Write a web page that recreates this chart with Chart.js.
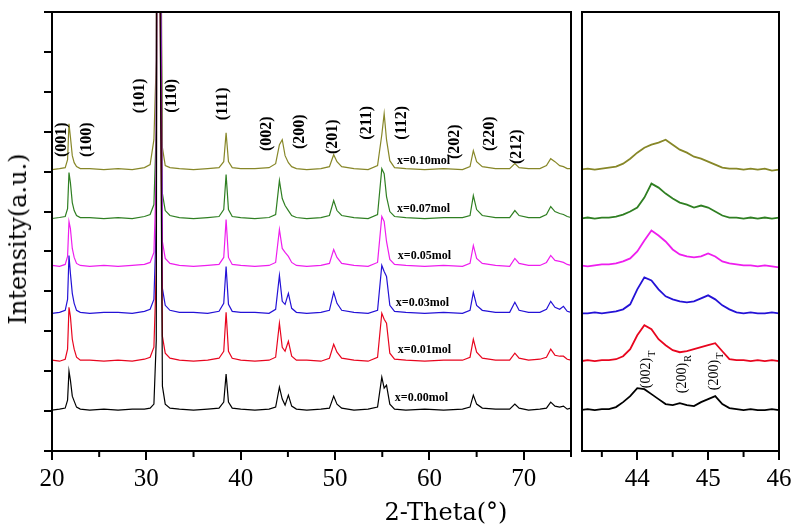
<!DOCTYPE html>
<html>
<head>
<meta charset="utf-8">
<script src="https://cdn.jsdelivr.net/npm/chart.js@4.4.0/dist/chart.umd.min.js"></script>
<style>
  html, body { margin: 0; padding: 0; background: #fff; }
  #wrap { position: relative; width: 812px; height: 527px; overflow: hidden; }
  #left { position: absolute; left: 0; top: 0; }
  #right { position: absolute; left: 576px; top: 0; }
  .ytitle {
    position: absolute; left: 18px; top: 239px;
    transform: translate(-50%, -50%) rotate(-90deg);
    font: 24px "DejaVu Serif"; white-space: nowrap; color: #000;
  }
  .xtitle {
    position: absolute; left: 446px; top: 512px;
    transform: translate(-50%, -50%);
    font: 24px "DejaVu Serif"; white-space: nowrap; color: #000;
  }
</style>
</head>
<body>
<div id="wrap">
  <canvas id="left" width="576" height="527"></canvas>
  <canvas id="right" width="236" height="527"></canvas>
  <div class="ytitle">Intensity(a.u.)</div>
  <div class="xtitle">2-Theta(°)</div>
</div>
<script>
// ---- data ----
const sampleNames = ['x=0.00mol', 'x=0.01mol', 'x=0.03mol', 'x=0.05mol', 'x=0.07mol', 'x=0.10mol'];
const sampleColors = ['#000000', '#e8051e', '#2412d6', '#ee1eee', '#2f7f22', '#878728'];
const offsets = [41, 90, 138, 185, 233, 282];

// full scan, 2θ (deg)
const twoTheta = [
  20.0, 20.8, 21.4, 21.65, 21.8, 21.95, 22.15, 22.35, 22.6, 23.0,
  24.0, 25.5, 27.0, 28.5, 29.8, 30.4, 30.8, 31.05, 31.25, 31.45,
  31.7, 32.0, 32.5, 33.5, 35.0, 36.5, 37.7, 38.2, 38.45, 38.7,
  39.1, 40.0, 41.5, 43.0, 43.7, 44.1, 44.4, 44.7, 45.05, 45.4,
  45.9, 47.0, 48.5, 49.4, 49.85, 50.2, 50.7, 52.0, 53.5, 54.5,
  54.95, 55.2, 55.45, 55.8, 56.3, 57.5, 59.5, 61.5, 63.5, 64.3,
  64.65, 65.0, 65.6, 67.0, 68.5, 69.05, 69.5, 70.5, 71.7, 72.4,
  72.85, 73.3, 73.8, 74.2, 74.6, 75.0
];
const int000 = [
  0, 1, 2, 10, 39, 30, 14, 9, 3, 1,
  0, 1, 0, 1, 1, 2, 6, 70, 1400, 420,
  24, 6, 2, 1, 0, 1, 2, 8, 36, 8,
  2, 1, 0, 1, 3, 23, 11, 5, 15, 4,
  1, 0, 1, 2, 14, 6, 2, 0, 1, 3,
  33, 22, 25, 6, 1, 0, 1, 0, 1, 3,
  15, 6, 2, 1, 1, 6, 2, 0, 1, 2,
  8, 4, 3, 4, 1, 2
];
const int001 = [
  1, 0, 2, 12, 54, 45, 22, 12, 4, 1,
  1, 0, 1, 0, 2, 4, 14, 90, 1400, 380,
  25, 8, 3, 1, 0, 1, 3, 10, 49, 10,
  3, 1, 0, 1, 4, 38, 14, 10, 20, 5,
  1, 1, 0, 3, 17, 9, 3, 1, 0, 4,
  48, 42, 38, 8, 2, 1, 0, 1, 1, 4,
  22, 9, 3, 1, 1, 8, 3, 1, 2, 4,
  12, 6, 5, 5, 2, 1
];
const int003 = [
  0, 1, 3, 14, 58, 40, 20, 10, 3, 1,
  0, 1, 1, 0, 2, 4, 14, 90, 1400, 380,
  25, 8, 3, 1, 1, 0, 2, 10, 47, 9,
  2, 1, 1, 0, 4, 38, 12, 9, 20, 5,
  1, 0, 1, 3, 21, 10, 3, 1, 0, 3,
  48, 42, 37, 8, 2, 1, 0, 1, 0, 3,
  21, 8, 3, 1, 1, 11, 3, 1, 1, 4,
  12, 6, 4, 7, 2, 1
];
const int005 = [
  1, 0, 2, 10, 45, 38, 18, 9, 3, 1,
  0, 1, 0, 1, 2, 4, 14, 90, 1400, 380,
  25, 8, 3, 1, 0, 1, 2, 9, 47, 9,
  2, 1, 0, 1, 4, 37, 18, 14, 10, 4,
  1, 0, 1, 3, 17, 9, 3, 1, 0, 4,
  50, 45, 25, 7, 2, 1, 0, 1, 0, 3,
  21, 8, 3, 1, 0, 8, 3, 1, 1, 4,
  11, 6, 5, 4, 2, 1
];
const int007 = [
  0, 1, 2, 10, 46, 36, 16, 8, 3, 1,
  1, 0, 1, 0, 2, 4, 14, 90, 1400, 380,
  25, 8, 3, 1, 0, 1, 2, 9, 44, 9,
  2, 1, 0, 1, 4, 38, 20, 13, 8, 3,
  1, 0, 1, 3, 18, 8, 3, 1, 0, 4,
  50, 45, 22, 7, 2, 1, 0, 1, 1, 3,
  23, 9, 3, 1, 1, 8, 3, 1, 1, 4,
  12, 7, 5, 4, 2, 1
];
const int010 = [
  0, 1, 2, 10, 46, 33, 14, 7, 3, 1,
  1, 0, 1, 0, 2, 5, 30, 110, 1400, 380,
  22, 4, 2, 1, 0, 1, 2, 8, 37, 8,
  2, 1, 1, 2, 6, 25, 30, 14, 7, 3,
  1, 0, 1, 3, 15, 8, 3, 1, 0, 4,
  35, 56, 30, 9, 2, 1, 0, 1, 0, 3,
  19, 8, 3, 1, 1, 6, 2, 1, 1, 4,
  11, 8, 4, 3, 1, 1
];

// zoomed scan 43.2 - 46 deg
const zoomTheta = [
  43.2, 43.3, 43.4, 43.5, 43.6, 43.7, 43.8, 43.9, 44.0, 44.1,
  44.2, 44.3, 44.4, 44.5, 44.6, 44.7, 44.8, 44.9, 45.0, 45.1,
  45.2, 45.3, 45.4, 45.5, 45.6, 45.7, 45.8, 45.9, 46.0
];
const zoom000 = [0, 1, 0, 1, 1, 3, 8, 14, 22, 21, 16, 11, 6, 5, 7, 5, 4, 8, 11, 14, 6, 2, 1, 0, 1, 0, 0, 1, 0];
const zoom001 = [0, 1, 0, 1, 1, 2, 5, 12, 26, 36, 32, 22, 16, 11, 9, 10, 12, 14, 16, 18, 10, 2, 1, 1, 0, 1, 0, 1, 0];
const zoom003 = [0, 0, 1, 0, 1, 2, 4, 9, 24, 36, 33, 24, 17, 14, 12, 11, 12, 15, 18, 14, 8, 4, 1, 0, 1, 0, 0, 1, 0];
const zoom005 = [1, 0, 1, 2, 2, 3, 5, 8, 15, 26, 36, 31, 25, 17, 12, 10, 9, 10, 13, 10, 5, 3, 2, 1, 1, 0, 1, 0, -1];
const zoom007 = [0, 1, 0, 1, 1, 2, 4, 7, 11, 21, 35, 31, 25, 20, 16, 14, 11, 13, 11, 7, 3, 1, 1, 0, 1, 0, 1, 0, 1];
const zoom010 = [0, 1, 0, 1, 2, 3, 6, 11, 17, 22, 25, 27, 30, 25, 20, 17, 13, 11, 8, 5, 2, 1, 1, 0, 1, 0, 1, -1, 0];

// axis ticks
const leftTicks = [20, 25, 30, 35, 40, 45, 50, 55, 60, 65, 70, 75];
const leftLabels = [20, 30, 40, 50, 60, 70];
const rightTicks = [43.5, 44, 44.5, 45, 45.5, 46];
const rightLabels = [44, 45, 46];
const yTicks = [0, 40, 80, 120, 160, 200, 240, 280, 320, 360, 400, 440];

// peak labels (hkl), position in data coords
const peakLabels = ['(001)', '(100)', '(101)', '(110)', '(111)', '(002)', '(200)', '(201)', '(211)', '(112)', '(202)', '(220)', '(212)'];
const peakLabelX = [21.06, 23.71, 29.32, 32.71, 38.11, 42.78, 46.27, 49.77, 53.37, 57.08, 62.69, 66.4, 69.26];
const peakLabelY = [312, 312, 356, 356, 348, 318, 320, 315, 329, 329, 310, 318, 305];

const sampleLabelX = [56.33, 56.65, 56.44, 56.65, 56.55, 56.55];
const sampleLabelY = [53, 101, 148, 196, 243, 291];

const zoomLabels = ['(002)', '(200)', '(200)'];
const zoomSubs = ['T', 'R', 'T'];
const zoomLabelX = [44.13, 44.63, 45.09];
const zoomLabelY = [63, 58, 61];

const mainSeries = [int000, int001, int003, int005, int007, int010];
const zoomSeries = [zoom000, zoom001, zoom003, zoom005, zoom007, zoom010];

const FONT = '"Liberation Serif", "Times New Roman", serif';

function buildSets(xs, series, width) {
  return series.map((vals, i) => ({
    label: sampleNames[i],
    data: vals.map((v, j) => ({ x: xs[j], y: v + offsets[i] })),
    borderColor: sampleColors[i],
    borderWidth: width,
    pointRadius: 0,
    tension: 0,
    fill: false,
  }));
}

// frame, minor ticks and text labels
const decor = {
  id: 'decor',
  afterDraw(chart, args, opts) {
    const { ctx, chartArea: a, scales } = chart;
    const x = scales.x, y = scales.y;
    ctx.save();
    ctx.strokeStyle = '#000';
    ctx.lineWidth = 2;
    ctx.strokeRect(a.left, a.top, a.right - a.left, a.bottom - a.top);

    // minor x ticks
    opts.minor.forEach(v => {
      const px = x.getPixelForValue(v);
      ctx.beginPath();
      ctx.moveTo(px, a.bottom);
      ctx.lineTo(px, a.bottom + 6);
      ctx.stroke();
    });

    ctx.fillStyle = '#000';
    (opts.rotated || []).forEach(l => {
      ctx.save();
      ctx.translate(x.getPixelForValue(l.x), y.getPixelForValue(l.y));
      ctx.rotate(-Math.PI / 2);
      ctx.font = l.font;
      ctx.textAlign = l.align;
      ctx.textBaseline = 'middle';
      ctx.fillText(l.text, 0, 0);
      if (l.sub) {
        const w = ctx.measureText(l.text).width;
        ctx.font = l.subFont;
        ctx.textAlign = 'left';
        ctx.fillText(l.sub, w + 1, 6);
      }
      ctx.restore();
    });
    (opts.plain || []).forEach(l => {
      ctx.font = l.font;
      ctx.textAlign = 'left';
      ctx.textBaseline = 'middle';
      ctx.fillText(l.text, x.getPixelForValue(l.x), y.getPixelForValue(l.y));
    });
    ctx.restore();
  }
};

function xScale(min, max, ticks, labels, height) {
  return {
    type: 'linear',
    min, max,
    afterBuildTicks: s => { s.ticks = ticks.map(v => ({ value: v })); },
    afterFit: s => { s.height = height; },
    border: { display: false },
    grid: {
      drawOnChartArea: false,
      tickLength: 9,
      lineWidth: 2,
      tickColor: c => (c.tick && labels.includes(c.tick.value)) ? '#000' : 'rgba(0,0,0,0)',
    },
    ticks: {
      padding: 4,
      color: '#000',
      font: { family: FONT, size: 25 },
      maxRotation: 0,
      autoSkip: false,
      callback: v => labels.includes(v) ? String(v) : '',
    },
  };
}

new Chart(document.getElementById('left'), {
  type: 'line',
  data: { datasets: buildSets(twoTheta, mainSeries, 1.2) },
  options: {
    responsive: false,
    animation: false,
    layout: { padding: { left: 0, right: 5, top: 12, bottom: 0 } },
    plugins: {
      legend: { display: false },
      tooltip: { enabled: false },
      decor: {
        minor: leftTicks.filter(v => !leftLabels.includes(v)),
        rotated: peakLabels.map((t, i) => ({
          text: t, x: peakLabelX[i], y: peakLabelY[i], align: 'center', font: 'bold 16px ' + FONT,
        })),
        plain: sampleNames.map((t, i) => ({
          text: t, x: sampleLabelX[i], y: sampleLabelY[i], font: 'bold 12px ' + FONT,
        })),
      },
    },
    scales: {
      x: xScale(20, 75, leftTicks, leftLabels, 76),
      y: {
        min: 0, max: 440,
        afterBuildTicks: s => { s.ticks = yTicks.map(v => ({ value: v })); },
        afterFit: s => { s.width = 52; },
        border: { display: false },
        grid: { drawOnChartArea: false, tickLength: 8, lineWidth: 2, tickColor: '#000' },
        ticks: { display: false },
      },
    },
  },
  plugins: [decor],
});

new Chart(document.getElementById('right'), {
  type: 'line',
  data: { datasets: buildSets(zoomTheta, zoomSeries, 1.8) },
  options: {
    responsive: false,
    animation: false,
    layout: { padding: { left: 6, right: 33, top: 12, bottom: 0 } },
    plugins: {
      legend: { display: false },
      tooltip: { enabled: false },
      decor: {
        minor: rightTicks.filter(v => !rightLabels.includes(v)),
        rotated: zoomLabels.map((t, i) => ({
          text: t, sub: zoomSubs[i], x: zoomLabelX[i], y: zoomLabelY[i], align: 'left',
          font: '14px ' + FONT, subFont: '10px ' + FONT,
        })),
      },
    },
    scales: {
      x: xScale(43.22, 46, rightTicks, rightLabels, 76),
      y: { display: false, min: 0, max: 440 },
    },
  },
  plugins: [decor],
});
</script>
</body>
</html>
